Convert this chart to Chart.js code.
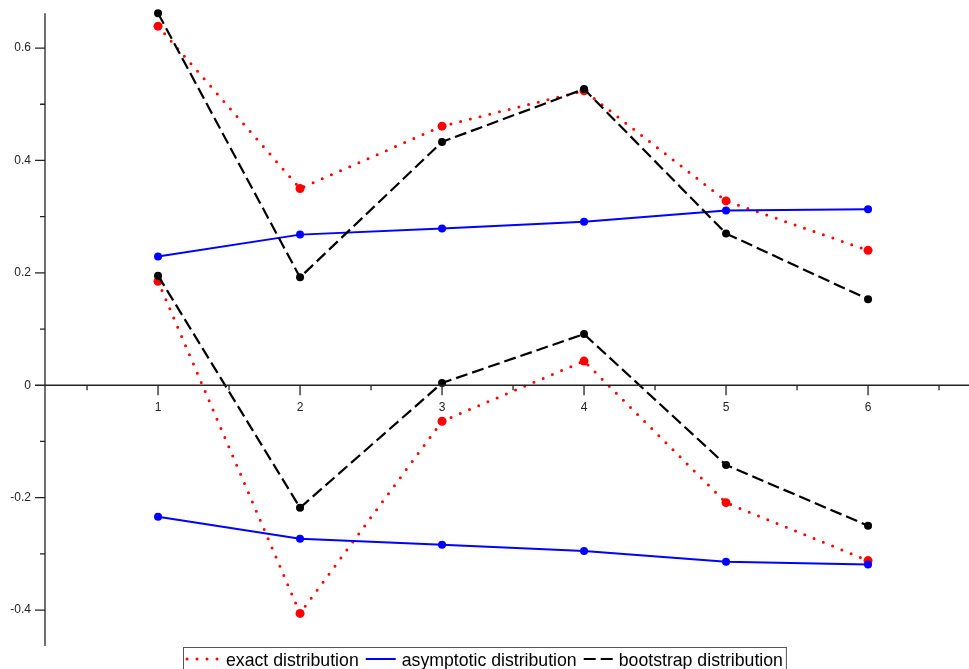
<!DOCTYPE html>
<html>
<head>
<meta charset="utf-8">
<script src="https://cdn.jsdelivr.net/npm/chart.js@4/dist/chart.umd.min.js"></script>
<style>
  html, body { margin: 0; padding: 0; background: #fff; }
  #wrap { width: 969px; height: 669px; }
</style>
</head>
<body>
<div id="wrap"><canvas id="plot" width="969" height="669"></canvas></div>
<script>
// sample index
const xs = [1, 2, 3, 4, 5, 6];

// upper / lower limits of each distribution
const exactUpper = [0.639, 0.350, 0.461, 0.524, 0.328, 0.240];
const exactLower = [0.185, -0.406, -0.064, 0.043, -0.209, -0.312];
const asympUpper = [0.229, 0.268, 0.279, 0.291, 0.311, 0.313];
const asympLower = [-0.234, -0.273, -0.284, -0.295, -0.314, -0.319];
const bootUpper = [0.662, 0.192, 0.433, 0.527, 0.270, 0.153];
const bootLower = [0.195, -0.218, 0.004, 0.091, -0.142, -0.250];

const seriesNames = ['exact distribution', 'asymptotic distribution', 'bootstrap distribution'];

// axis ticks
const xTicks = [1, 2, 3, 4, 5, 6];
const xMinor = [0.5, 1.5, 2.5, 3.5, 4.5, 5.5, 6.5];
const yTicks = [-0.4, -0.2, 0, 0.2, 0.4, 0.6];
const yMinor = [-0.3, -0.1, 0.1, 0.3, 0.5];

const pts = (ys) => xs.map((x, i) => ({ x: x, y: ys[i] }));

const styles = {
    exact: { color: '#ff0000', dash: [0, 10], width: 3, cap: 'round', radius: 4.5 },
    asymp: { color: '#0000ff', dash: [], width: 2, cap: 'butt', radius: 4 },
    boot: { color: '#000000', dash: [12, 5], width: 2.2, cap: 'butt', radius: 4 }
};

function ds(label, ys, st, order) {
    return {
        label: label,
        data: pts(ys),
        borderColor: st.color,
        backgroundColor: st.color,
        borderWidth: st.width,
        borderDash: st.dash,
        borderCapStyle: st.cap,
        pointRadius: st.radius,
        pointBorderWidth: 0,
        pointHoverRadius: st.radius,
        tension: 0,
        clip: false,
        order: order
    };
}

const axesPlugin = {
    id: 'mapleAxes',
    afterDatasetsDraw(chart) {
        const ctx = chart.ctx;
        const xs_ = chart.scales.x, ys_ = chart.scales.y;
        const area = chart.chartArea;
        const x0 = area.left;
        const y0 = ys_.getPixelForValue(0);
        ctx.save();
        ctx.strokeStyle = '#222';
        ctx.lineWidth = 1.3;
        ctx.setLineDash([]);
        ctx.beginPath();
        ctx.moveTo(x0, area.top);
        ctx.lineTo(x0, area.bottom);
        ctx.moveTo(x0, y0);
        ctx.lineTo(area.right, y0);
        yTicks.forEach(v => {
            const p = ys_.getPixelForValue(v);
            ctx.moveTo(x0 - 10, p); ctx.lineTo(x0, p);
        });
        yMinor.forEach(v => {
            const p = ys_.getPixelForValue(v);
            ctx.moveTo(x0 - 5, p); ctx.lineTo(x0, p);
        });
        xTicks.forEach(v => {
            const p = xs_.getPixelForValue(v);
            ctx.moveTo(p, y0); ctx.lineTo(p, y0 + 10);
        });
        xMinor.forEach(v => {
            const p = xs_.getPixelForValue(v);
            ctx.moveTo(p, y0); ctx.lineTo(p, y0 + 5);
        });
        ctx.stroke();
        ctx.restore();
    }
};

const legendPlugin = {
    id: 'boxLegend',
    afterDraw(chart) {
        const ctx = chart.ctx;
        const items = [styles.exact, styles.asymp, styles.boot];
        const sampleW = [33, 30, 29];
        const lineY = 659;
        ctx.save();
        ctx.font = '17.7px "Liberation Sans", Arial, sans-serif';
        ctx.textBaseline = 'alphabetic';
        ctx.fillStyle = '#000';
        let x = 187;
        const left = x - 4;
        items.forEach((st, i) => {
            ctx.beginPath();
            ctx.strokeStyle = st.color;
            ctx.lineWidth = st.width;
            ctx.lineCap = st.cap;
            ctx.setLineDash(st.dash);
            ctx.moveTo(x, lineY);
            ctx.lineTo(x + sampleW[i], lineY);
            ctx.stroke();
            x += sampleW[i] + 6;
            ctx.fillText(seriesNames[i], x, 666);
            x += ctx.measureText(seriesNames[i]).width + 7;
        });
        ctx.setLineDash([]);
        ctx.lineCap = 'butt';
        ctx.strokeStyle = '#555';
        ctx.lineWidth = 1;
        ctx.strokeRect(left + 0.5, 647.5, x - 7 + 3 - left, 40);
        ctx.restore();
    }
};

new Chart(document.getElementById('plot'), {
    type: 'line',
    data: {
        datasets: [
            ds(seriesNames[0], exactUpper, styles.exact, 2),
            ds(seriesNames[0], exactLower, styles.exact, 2),
            ds(seriesNames[1], asympUpper, styles.asymp, 1),
            ds(seriesNames[1], asympLower, styles.asymp, 1),
            ds(seriesNames[2], bootUpper, styles.boot, 0),
            ds(seriesNames[2], bootLower, styles.boot, 0)
        ]
    },
    options: {
        responsive: false,
        animation: false,
        devicePixelRatio: 1,
        layout: { autoPadding: false, padding: { top: 11, bottom: 23, left: 0, right: 0 } },
        plugins: {
            legend: { display: false },
            tooltip: { enabled: false }
        },
        scales: {
            x: {
                type: 'linear',
                position: { y: 0 },
                min: 0.204,
                max: 6.711,
                grid: { display: false },
                border: { display: false },
                afterBuildTicks: (s) => { s.ticks = xTicks.map(v => ({ value: v })); },
                ticks: {
                    padding: 7,
                    color: '#222',
                    font: { family: '"Liberation Sans", Arial, sans-serif', size: 12 },
                    maxRotation: 0,
                    callback: (v) => String(v)
                }
            },
            y: {
                type: 'linear',
                min: -0.464,
                max: 0.662,
                grid: { display: false },
                border: { display: false },
                afterFit: (s) => { s.width = 45; },
                afterBuildTicks: (s) => { s.ticks = yTicks.map(v => ({ value: v })); },
                ticks: {
                    padding: 6,
                    color: '#222',
                    font: { family: '"Liberation Sans", Arial, sans-serif', size: 12 },
                    callback: (v) => String(v)
                }
            }
        }
    },
    plugins: [axesPlugin, legendPlugin]
});
</script>
</body>
</html>
